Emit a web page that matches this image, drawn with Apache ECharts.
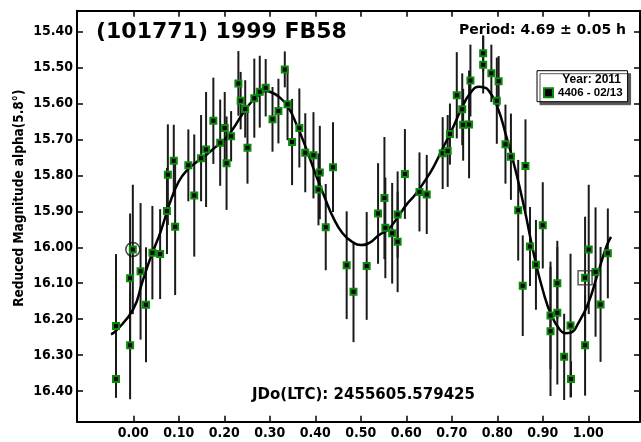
<!DOCTYPE html>
<html>
<head>
<meta charset="utf-8">
<script src="https://cdn.jsdelivr.net/npm/echarts@6/dist/echarts.min.js"></script>
<style>
  html, body { margin: 0; padding: 0; background: #fff; }
  #lc { width: 641px; height: 442px; }
</style>
</head>
<body>
<div id="lc"></div>
<script>
// observations: rotational phase, reduced magnitude, error
var phase = [-0.038, -0.038, -0.007, -0.007, -0.001, 0.016, 0.028, 0.042, 0.059, 0.074, 0.076, 0.089, 0.092,
  0.121, 0.134, 0.149, 0.160, 0.176, 0.191, 0.201, 0.205, 0.215, 0.231, 0.236, 0.246, 0.251, 0.266, 0.278,
  0.291, 0.306, 0.319, 0.333, 0.339, 0.349, 0.365, 0.378, 0.396, 0.407, 0.410, 0.423, 0.439, 0.469, 0.484,
  0.513, 0.538, 0.552, 0.554, 0.569, 0.581, 0.581, 0.597, 0.629, 0.645, 0.680, 0.691, 0.696, 0.711, 0.723,
  0.725, 0.738, 0.741, 0.769, 0.769, 0.787, 0.799, 0.803, 0.818, 0.830, 0.846, 0.856, 0.862, 0.872, 0.885,
  0.900, 0.917, 0.917, 0.932, 0.932, 0.947, 0.961, 0.962, 0.993, 0.993, 1.001, 1.016, 1.027, 1.043];
var mag = [16.219, 16.367, 16.086, 16.273, 16.006, 16.067, 16.160, 16.015, 16.019, 15.899, 15.798, 15.759, 15.943,
  15.772, 15.856, 15.752, 15.728, 15.648, 15.709, 15.668, 15.766, 15.691, 15.544, 15.592, 15.615, 15.723, 15.585, 15.567,
  15.556, 15.644, 15.621, 15.505, 15.602, 15.707, 15.668, 15.737, 15.744, 15.839, 15.792, 15.944, 15.777, 16.050, 16.124,
  16.052, 15.906, 15.863, 15.946, 15.961, 15.909, 15.985, 15.796, 15.846, 15.853, 15.738, 15.732, 15.685, 15.577, 15.616,
  15.659, 15.658, 15.536, 15.460, 15.492, 15.516, 15.592, 15.538, 15.713, 15.748, 15.897, 16.107, 15.774, 15.998, 16.049,
  15.939, 16.190, 16.234, 16.100, 16.182, 16.305, 16.218, 16.367, 16.085, 16.273, 16.006, 16.069, 16.159, 16.017];
var magErr = [0.20, 0.05, 0.18, 0.15, 0.18, 0.19, 0.16, 0.13, 0.125, 0.12, 0.14, 0.10, 0.19,
  0.10, 0.17, 0.12, 0.16, 0.12, 0.12, 0.10, 0.13, 0.07, 0.09, 0.08, 0.08, 0.10, 0.11, 0.10,
  0.08, 0.09, 0.09, 0.05, 0.10, 0.12, 0.11, 0.11, 0.12, 0.10, 0.13, 0.12, 0.125, 0.15, 0.14,
  0.15, 0.14, 0.17, 0.14, 0.14, 0.12, 0.14, 0.125, 0.11, 0.11, 0.10, 0.10, 0.085, 0.12, 0.10,
  0.10, 0.15, 0.10, 0.05, 0.08, 0.08, 0.12, 0.07, 0.11, 0.12, 0.14, 0.14, 0.13, 0.11, 0.125,
  0.12, 0.15, 0.18, 0.10, 0.20, 0.12, 0.20, 0.05, 0.17, 0.14, 0.18, 0.18, 0.16, 0.125];

// fourier fit
var fitPhase = [-0.049, -0.04, 0.0, 0.02, 0.04, 0.06, 0.08, 0.10, 0.12, 0.14, 0.16, 0.18, 0.20, 0.22, 0.24, 0.26,
  0.28, 0.29, 0.30, 0.32, 0.34, 0.36, 0.38, 0.40, 0.42, 0.44, 0.46, 0.48, 0.50, 0.52, 0.54, 0.56, 0.58, 0.60,
  0.62, 0.64, 0.66, 0.68, 0.70, 0.72, 0.74, 0.76, 0.77, 0.78, 0.80, 0.82, 0.84, 0.86, 0.88, 0.90, 0.92, 0.94,
  0.95, 0.96, 0.98, 1.00, 1.02, 1.04, 1.05];
var fitMag = [16.242, 16.235, 16.172, 16.096, 16.022, 15.957, 15.878, 15.817, 15.783, 15.762, 15.743, 15.722, 15.701,
  15.669, 15.629, 15.595, 15.572, 15.565, 15.567, 15.581, 15.609, 15.662, 15.725, 15.794, 15.859, 15.919, 15.961,
  15.984, 15.994, 15.987, 15.966, 15.950, 15.919, 15.882, 15.853, 15.817, 15.776, 15.725, 15.674, 15.618, 15.572,
  15.553, 15.555, 15.562, 15.609, 15.692, 15.785, 15.894, 16.017, 16.119, 16.193, 16.233, 16.239, 16.238, 16.207,
  16.156, 16.077, 15.998, 15.971];

var circledPoint = [-0.001, 16.006];
var boxedPoint = [0.993, 16.085];

var xTicks = [0, 0.1, 0.2, 0.3, 0.4, 0.5, 0.6, 0.7, 0.8, 0.9, 1.0];
var yTicks = [15.4, 15.5, 15.6, 15.7, 15.8, 15.9, 16.0, 16.1, 16.2, 16.3, 16.4];

var tickFont = '"DejaVu Sans Condensed", "DejaVu Sans", sans-serif';
var wideFont = '"DejaVu Sans", Verdana, sans-serif';
var smallFont = '"Liberation Sans", Arial, sans-serif';

var chart = echarts.init(document.getElementById('lc'));

function frameAxis(pos, ticks, showLabel) {
  return {
    type: 'value',
    position: pos,
    axisLine: { show: true, onZero: false, lineStyle: { color: '#000', width: 2 } },
    axisTick: { show: true, inside: true, length: 6, customValues: ticks, lineStyle: { color: '#000', width: 1.5 } },
    axisLabel: {
      show: showLabel, customValues: ticks, margin: 5,
      formatter: function (v) { return v.toFixed(2); },
      color: '#000', fontFamily: tickFont, fontWeight: 'bold', fontSize: 14
    },
    splitLine: { show: false }
  };
}

var xBottom = frameAxis('bottom', xTicks, true);
xBottom.min = -0.1237; xBottom.max = 1.1137;
var xTop = frameAxis('top', xTicks, false);
xTop.min = -0.1237; xTop.max = 1.1137;

var yLeft = frameAxis('left', yTicks, true);
yLeft.min = 15.3416; yLeft.max = 16.4855; yLeft.inverse = true;
yLeft.axisLabel.margin = 4;
yLeft.name = 'Reduced Magnitude alpha(5.8\u00b0)';
yLeft.nameLocation = 'middle';
yLeft.nameGap = 51;
yLeft.nameMoveOverlap = false;
yLeft.nameTextStyle = { color: '#000', fontFamily: tickFont, fontWeight: 'bold', fontSize: 13.5, padding: [0, 0, 0, 36] };
var yRight = frameAxis('right', yTicks, false);
yRight.min = 15.3416; yRight.max = 16.4855; yRight.inverse = true;

var option = {
  animation: false,
  backgroundColor: '#fff',
  grid: { left: 77, right: 1, top: 10.7, bottom: 20.3 },
  title: [
    { text: '(101771) 1999 FB58', left: 96, top: 21, padding: 0,
      textStyle: { fontFamily: wideFont, fontWeight: 'bold', fontSize: 22, color: '#000' } },
    { text: 'Period: 4.69 \u00b1 0.05 h', right: 15, top: 23, padding: 0,
      textStyle: { fontFamily: wideFont, fontWeight: 'bold', fontSize: 14, color: '#000' } },
    { text: 'JDo(LTC): 2455605.579425', left: 252, top: 388, padding: 0,
      textStyle: { fontFamily: wideFont, fontWeight: 'bold', fontSize: 15, color: '#000' } },
    { text: 'Year: 2011', right: 20, top: 74, padding: 0,
      textStyle: { fontFamily: smallFont, fontWeight: 'bold', fontSize: 12, color: '#000' } }
  ],
  legend: {
    data: ['4406 - 02/13'],
    left: 537, top: 70.7,
    orient: 'vertical',
    padding: [16, 5, 3, 6],
    itemWidth: 9, itemHeight: 9,
    backgroundColor: '#fff',
    borderColor: '#000', borderWidth: 1,
    shadowColor: '#555', shadowBlur: 0, shadowOffsetX: 3, shadowOffsetY: 3,
    textStyle: { fontFamily: smallFont, fontWeight: 'bold', fontSize: 11.5, color: '#000' }
  },
  xAxis: [xBottom, xTop],
  yAxis: [yLeft, yRight],
  series: [
    {
      type: 'custom',
      name: 'errors',
      silent: true,
      z: 2,
      data: phase.map(function (p, i) { return [p, mag[i] - magErr[i], mag[i] + magErr[i]]; }),
      encode: { x: 0, y: [1, 2] },
      renderItem: function (params, api) {
        var a = api.coord([api.value(0), api.value(1)]);
        var b = api.coord([api.value(0), api.value(2)]);
        return {
          type: 'line',
          shape: { x1: a[0], y1: a[1], x2: b[0], y2: b[1] },
          style: { stroke: '#1a1a1a', lineWidth: 2 }
        };
      }
    },
    {
      type: 'line',
      name: 'fit',
      data: fitPhase.map(function (p, i) { return [p, fitMag[i]]; }),
      smooth: true,
      symbol: 'none',
      z: 3,
      lineStyle: { color: '#000', width: 2.5 }
    },
    {
      type: 'scatter',
      name: '4406 - 02/13',
      data: phase.map(function (p, i) { return [p, mag[i]]; }),
      symbol: 'rect',
      symbolSize: 6,
      z: 4,
      itemStyle: { color: '#000', borderColor: '#0b8a0b', borderWidth: 2, opacity: 1 }
    },
    {
      type: 'scatter',
      name: 'first',
      data: [circledPoint],
      symbol: 'circle',
      symbolSize: 14,
      z: 5,
      itemStyle: { color: 'rgba(0,0,0,0)', borderColor: '#111', borderWidth: 1.5 }
    },
    {
      type: 'scatter',
      name: 'zero',
      data: [boxedPoint],
      symbol: 'rect',
      symbolSize: 14,
      z: 5,
      itemStyle: { color: 'rgba(0,0,0,0)', borderColor: '#333', borderWidth: 1.5 }
    }
  ]
};

chart.setOption(option);
</script>
</body>
</html>
